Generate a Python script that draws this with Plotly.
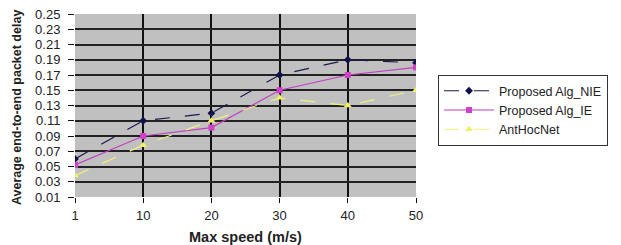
import plotly.graph_objects as go

speeds = ["1", "10", "20", "30", "40", "50"]
nie = [0.06, 0.11, 0.12, 0.17, 0.19, 0.186]
ie = [0.052, 0.09, 0.101, 0.15, 0.17, 0.18]
anthoc = [0.038, 0.078, 0.11, 0.14, 0.13, 0.15]
yticks = [0.01, 0.03, 0.05, 0.07, 0.09, 0.11, 0.13, 0.15, 0.17, 0.19, 0.21, 0.23, 0.25]
x_title = "Max speed (m/s)"
y_title = "Average end-to-end packet delay"

fig = go.Figure()
fig.add_trace(go.Scatter(x=speeds, y=nie, name="Proposed Alg_NIE", mode="lines+markers",
                         line=dict(color="#1a1a50", width=1.2, dash="longdash"),
                         marker=dict(symbol="diamond", size=6, color="#10104a")))
fig.add_trace(go.Scatter(x=speeds, y=ie, name="Proposed Alg_IE", mode="lines+markers",
                         line=dict(color="#c040c0", width=1.2),
                         marker=dict(symbol="square", size=6, color="#d040c8")))
fig.add_trace(go.Scatter(x=speeds, y=anthoc, name="AntHocNet", mode="lines+markers",
                         line=dict(color="#f0f080", width=1.2, dash="longdash"),
                         marker=dict(symbol="triangle-up", size=7, color="#f0f060")))

# page body has an 8px default margin, so the figure is 8px smaller and shifted
fig.update_layout(
    width=613, height=237,
    margin=dict(l=67, r=205, t=6, b=48),
    paper_bgcolor="white", plot_bgcolor="#c0c0c0",
    font=dict(family="Liberation Sans, Arial", size=12, color="#222"),
    xaxis=dict(type="category", range=[0, 5], showgrid=True, gridcolor="#111", gridwidth=1.6,
               ticks="outside", ticklen=5, tickcolor="#111", showline=False, zeroline=False,
               tickfont=dict(size=13), ticklabelstandoff=1, automargin=False,
               ticklabeloverflow="allow"),
    yaxis=dict(range=[0.01, 0.25], tickvals=yticks, ticktext=[f"{v:.2f}" for v in yticks],
               showgrid=True, gridcolor="#222", gridwidth=1.6, ticks="outside", ticklen=6,
               tickcolor="#111", zeroline=False, tickfont=dict(size=13), ticklabelstandoff=5,
               automargin=False, ticklabeloverflow="allow"),
    legend=dict(x=1.064, y=0.667, xanchor="left", yanchor="top", bordercolor="#333", borderwidth=1.2,
                bgcolor="white", font=dict(size=12.5), tracegroupgap=0, itemwidth=50),
    showlegend=True,
    annotations=[
        dict(text=f"<b>{x_title}</b>", xref="paper", yref="paper", x=0.5, y=-0.219,
             xanchor="center", yanchor="middle", showarrow=False, font=dict(size=14.5, color="#222")),
        dict(text=f"<b>{y_title}</b>", xref="paper", yref="paper", x=-0.170, y=0.486,
             xanchor="center", yanchor="middle", showarrow=False, textangle=-90,
             font=dict(size=12.5, color="#222")),
    ],
)

fig.write_html("out.html")
